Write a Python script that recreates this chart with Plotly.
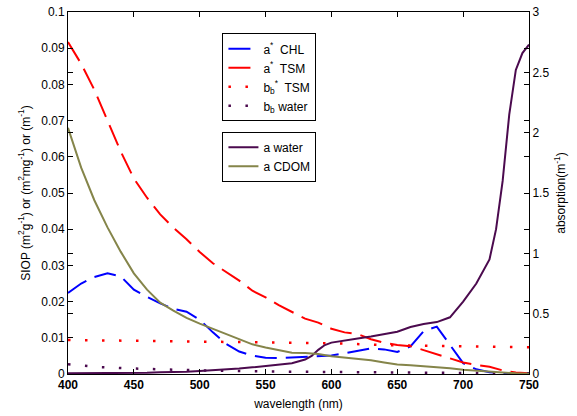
import plotly.graph_objects as go

wl = [400, 410, 420, 430, 440, 450, 460, 470, 480, 490, 500, 510, 520, 530, 540, 550,
      560, 570, 580, 590, 600, 610, 620, 630, 640, 650, 660, 670, 680, 690, 700, 710,
      720, 730, 740, 750]

a_chl = [0.0224, 0.025, 0.0268, 0.0278, 0.027, 0.0233, 0.0213, 0.0195, 0.018, 0.0172,
         0.015, 0.0115, 0.0083, 0.0062, 0.0051, 0.0045, 0.0044, 0.0046, 0.0047, 0.0048,
         0.0051, 0.0057, 0.0065, 0.0071, 0.0068, 0.0061, 0.0076, 0.0118, 0.0131, 0.0082,
         0.003, 0.0013, 0.0005, 0.0002, 0.0001, 0.0]

a_tsm = [0.0917, 0.0857, 0.0785, 0.070, 0.0615, 0.054, 0.0487, 0.0441, 0.0404, 0.0372,
         0.0337, 0.0306, 0.0283, 0.0258, 0.023, 0.0212, 0.019, 0.0171, 0.0153, 0.0142,
         0.0125, 0.0115, 0.011, 0.0096, 0.0086, 0.008, 0.0077, 0.0066, 0.0054, 0.0043,
         0.0032, 0.0025, 0.002, 0.001, 0.0004, 0.0002]

bb_wl = [400, 450, 500, 550, 600, 650, 700, 750]
bb_tsm = [0.0094, 0.0092, 0.0091, 0.0089, 0.0085, 0.0079, 0.0077, 0.0074]

bbw_wl = [400, 425, 450, 475, 500, 550, 600, 650, 700, 750]
bb_water = [0.0027, 0.0019, 0.0015, 0.0012, 0.001, 0.0007, 0.0005, 0.0004, 0.0003, 0.0002]

aw_wl = [400, 410, 420, 430, 440, 450, 460, 470, 480, 490, 500, 510, 520, 530, 540, 550,
         560, 570, 580, 585, 590, 595, 600, 610, 620, 630, 640, 650, 660, 670, 680, 690,
         700, 710, 720, 725, 730, 735, 740, 745, 750]
a_water = [0.006, 0.006, 0.006, 0.007, 0.008, 0.009, 0.01, 0.015, 0.016, 0.018, 0.025,
           0.03, 0.038, 0.045, 0.055, 0.065, 0.075, 0.09, 0.12, 0.15, 0.2, 0.24, 0.26,
           0.28, 0.295, 0.31, 0.33, 0.35, 0.39, 0.415, 0.43, 0.47, 0.6, 0.75, 0.95, 1.2,
           1.6, 2.15, 2.52, 2.66, 2.73]

a_cdom = [2.04, 1.71, 1.44, 1.215, 1.014, 0.834, 0.699, 0.591, 0.525, 0.465, 0.417, 0.375,
          0.33, 0.285, 0.246, 0.219, 0.198, 0.177, 0.174, 0.165, 0.147, 0.138, 0.126,
          0.114, 0.096, 0.078, 0.072, 0.066, 0.06, 0.048, 0.036, 0.027, 0.018, 0.012,
          0.006, 0.003]

BLUE = "#0000FF"
RED = "#FF0000"
PURPLE = "#4B0A4E"
OLIVE = "#85854A"
FONT = "Liberation Sans, Arial, sans-serif"

fig = go.Figure()
fig.add_trace(go.Scatter(x=wl, y=a_chl, mode="lines", name="a<sup>*</sup>  CHL",
                         line=dict(color=BLUE, width=2, dash="22px,9px"), legend="legend"))
fig.add_trace(go.Scatter(x=wl, y=a_tsm, mode="lines", name="a<sup>*</sup>  TSM",
                         line=dict(color=RED, width=2, dash="22px,9px"), legend="legend"))
fig.add_trace(go.Scatter(x=bb_wl, y=bb_tsm, mode="lines", name="b<sub>b</sub><sup>*</sup>  TSM",
                         line=dict(color=RED, width=2.5, dash="2.5px,14.5px"), legend="legend"))
fig.add_trace(go.Scatter(x=bbw_wl, y=bb_water, mode="lines", name="b<sub>b</sub> water",
                         line=dict(color=PURPLE, width=2.5, dash="2.5px,14.5px"), legend="legend"))
fig.add_trace(go.Scatter(x=aw_wl, y=a_water, mode="lines", name="a water", yaxis="y2",
                         line=dict(color=PURPLE, width=2), legend="legend2"))
fig.add_trace(go.Scatter(x=wl, y=a_cdom, mode="lines", name="a CDOM", yaxis="y2",
                         line=dict(color=OLIVE, width=2), legend="legend2"))

axis_common = dict(showgrid=False, zeroline=False, showline=True, linecolor="black",
                   linewidth=1, ticks="inside", ticklen=5, tickcolor="black",
                   automargin=False)

fig.update_layout(
    width=577, height=416,
    margin=dict(l=68, r=48, t=12, b=42),
    paper_bgcolor="white", plot_bgcolor="white",
    font=dict(family=FONT, size=12, color="black"),
    xaxis=dict(range=[400, 750], dtick=50, tick0=400, mirror="ticks",
               title=dict(text="wavelength (nm)", font=dict(size=12), standoff=8),
               tickfont=dict(family=FONT, size=12, color="black", weight="bold"),
               **axis_common),
    yaxis=dict(range=[0, 0.1], dtick=0.01, tick0=0, mirror="ticks",
               title=dict(text="SIOP (m<sup>2</sup>g<sup>-1</sup>) or (m<sup>2</sup>mg<sup>-1</sup>) or (m<sup>-1</sup>)",
                          font=dict(size=12), standoff=8),
               tickfont=dict(family=FONT, size=12, color="black"),
               **axis_common),
    yaxis2=dict(range=[0, 3], dtick=0.5, tick0=0, overlaying="y", side="right",
                mirror="ticks",
                title=dict(text="absorption(m<sup>-1</sup>)", font=dict(size=12), standoff=8),
                tickfont=dict(family=FONT, size=12, color="black"),
                **axis_common),
    legend=dict(x=0.335, y=0.941, xanchor="left", yanchor="top", bgcolor="white",
                bordercolor="black", borderwidth=1, itemwidth=30,
                font=dict(family=FONT, size=12, color="black"), tracegroupgap=0),
    legend2=dict(x=0.335, y=0.669, xanchor="left", yanchor="top", bgcolor="white",
                 bordercolor="black", borderwidth=1, itemwidth=30,
                 font=dict(family=FONT, size=12, color="black"), tracegroupgap=0),
    showlegend=True,
)

fig.write_html("out.html", config={"displayModeBar": False},
               post_script="document.body.style.margin='0';document.body.style.padding='0';")
